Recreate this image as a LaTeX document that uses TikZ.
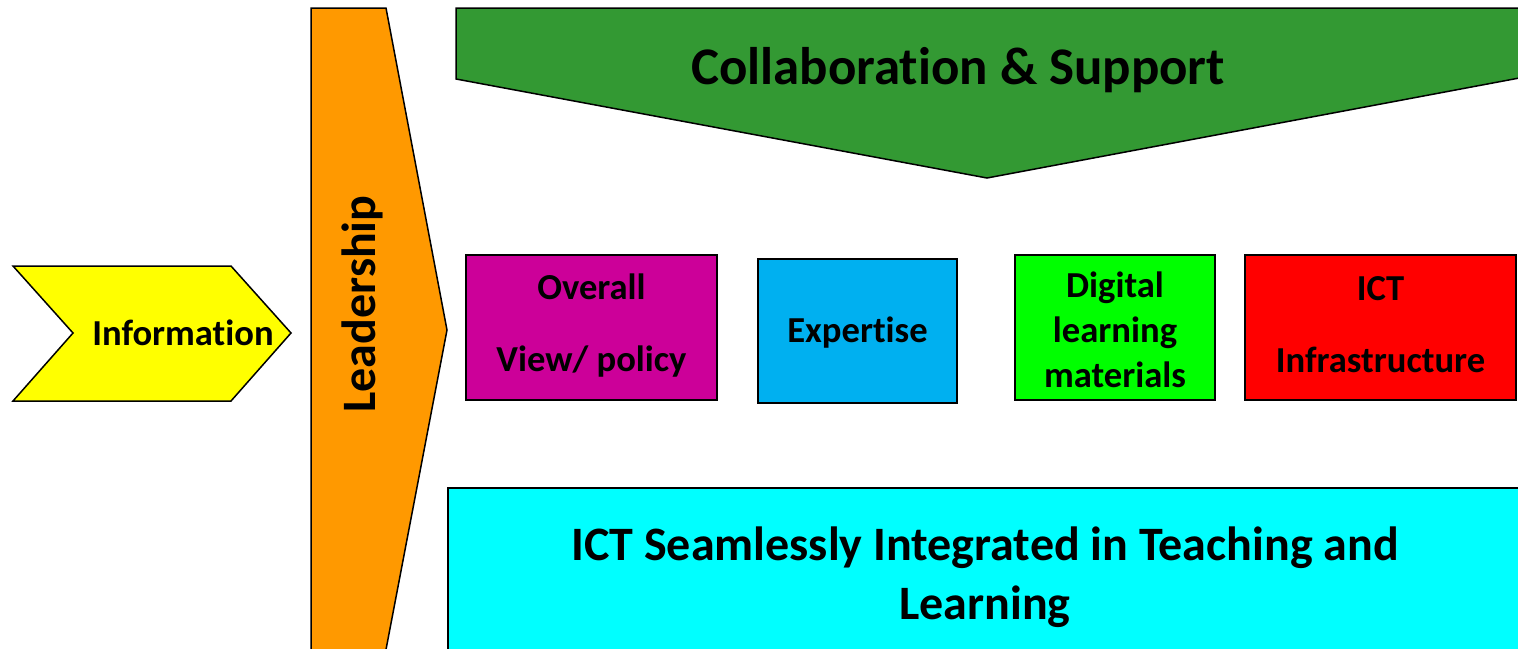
\documentclass[tikz,border=0pt]{standalone}
\usepackage{fontspec}
\setmainfont{Carlito}[RawFeature={-liga;-clig;-calt;-dlig}]
\definecolor{cyel}{HTML}{FFFF00}
\definecolor{corg}{HTML}{FF9900}
\definecolor{cgrn}{HTML}{339933}
\definecolor{cpur}{HTML}{CC0099}
\definecolor{cblu}{HTML}{00B0F0}
\definecolor{clim}{HTML}{00FF00}
\definecolor{cred}{HTML}{FF0000}
\definecolor{ccya}{HTML}{00FFFF}
\tikzset{
  shapeline/.style={draw=black, line width=1.5pt, line join=miter},
  boxnode/.style={shapeline, rectangle, inner sep=0pt, align=center},
  lbl/.style={font=\bfseries\fontsize{36.6}{44}\selectfont, inner sep=0pt, align=center},
}
\begin{document}
\begin{tikzpicture}[x=1pt,y=-1pt]
\useasboundingbox (0,0) rectangle (1518,648);
% Information chevron
\draw[shapeline, fill=cyel] (13,266) -- (231,266) -- (291,333) -- (231,401) -- (13,401) -- (73,333) -- cycle;
\node[lbl] (info) at (183,333) {Information};
% Leadership
\draw[shapeline, fill=corg] (311,660) -- (311,8) -- (386,8) -- (447,330) -- (384,660);
\node[lbl, rotate=90, font=\bfseries\fontsize{48}{50}\selectfont] (lead) at (362,304) {Leadership};
% Collaboration & Support
\draw[shapeline, fill=cgrn] (456,8) -- (1530,8) -- (1530,76) -- (987,178) -- (456,79) -- cycle;
\node[lbl, font=\bfseries\fontsize{52.9}{60}\selectfont] (collab) at (958,70) {Collaboration \& Support};
% boxes
\node[boxnode, fill=cpur, minimum width=251pt, minimum height=145pt] (overall) at (591.5,327.5) {};
\node[lbl, font=\bfseries\fontsize{36.6}{72}\selectfont] (overallt) at (591.5,326) {Overall\\View/ policy};
\node[boxnode, fill=cblu, minimum width=199pt, minimum height=144pt] (expert) at (857.5,331) {};
\node[lbl] (expertt) at (857.5,333) {Expertise};
\node[boxnode, fill=clim, minimum width=200pt, minimum height=145pt] (digital) at (1115,327.5) {};
\node[lbl, font=\bfseries\fontsize{36.6}{45}\selectfont] (digitalt) at (1115,330) {Digital\\learning\\materials};
\node[boxnode, fill=cred, minimum width=271pt, minimum height=145pt] (ictinf) at (1380.5,327.5) {};
\node[lbl, font=\bfseries\fontsize{36.6}{72}\selectfont] (ictinft) at (1380.5,325) {ICT\\Infrastructure};
% cyan bottom
\draw[shapeline, line width=2pt, fill=ccya] (448,670) -- (448,488) -- (1530,488) -- (1530,670);
\node[lbl, font=\bfseries\fontsize{48}{59}\selectfont] (ictseam) at (985,577) {ICT Seamlessly Integrated in Teaching and\\Learning};
\end{tikzpicture}
\end{document}
